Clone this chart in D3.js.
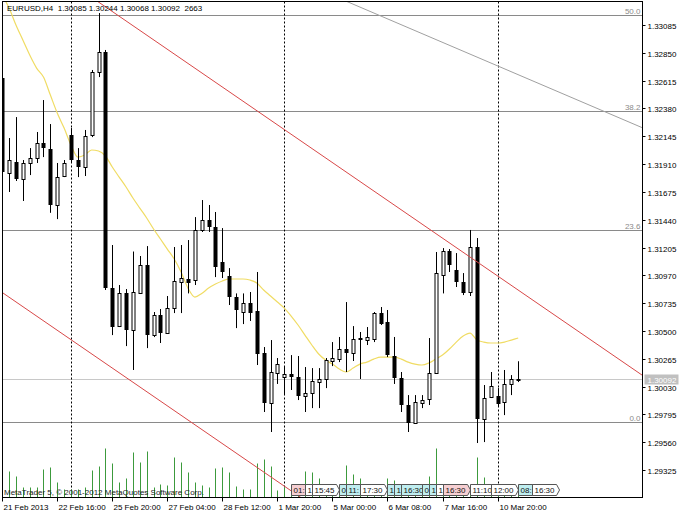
<!DOCTYPE html>
<html><head><meta charset="utf-8">
<script src="https://cdn.jsdelivr.net/npm/d3@7"></script>
<style>
body{margin:0;background:#fff}
svg{display:block}
text{font-family:"Liberation Sans",Arial,sans-serif;font-size:8px}
</style>
</head><body>
<svg id="c" width="688" height="516"></svg>
<script>
// ---------- data ----------
const symbol = "EURUSD,H4";
const headerValues = ["1.30085","1.30244","1.30068","1.30092","2663"];
const open = [1.32637,1.31834,1.31927,1.31784,1.31919,1.31961,1.32088,1.32037,1.31564,1.31809,
1.32155,1.31944,1.31885,1.32155,1.32688,1.32857,1.30862,1.30541,1.30817,1.30508,
1.30817,1.31057,1.30465,1.30634,1.30482,1.30693,1.30913,1.30939,1.30930,1.31353,
1.31437,1.31378,1.31082,1.30964,1.30786,1.30660,1.30736,1.30668,1.30313,1.29891,
1.30144,1.30110,1.30136,1.30110,1.29950,1.29975,1.30068,1.30094,1.30246,1.30262,
1.30347,1.30313,1.30440,1.30423,1.30431,1.30651,1.30575,1.30288,1.30102,1.29874,
1.29722,1.29891,1.29925,1.30144,1.30972,1.31175,1.31015,1.30913,1.30829,1.31209,
1.29755,1.29941,1.29950,1.29899,1.30052,1.30085];
const high = [1.32671,1.32130,1.32307,1.31944,1.32045,1.32181,1.32451,1.32248,1.31919,1.31944,
1.32214,1.32045,1.32198,1.32705,1.33186,1.32874,1.31226,1.30888,1.30854,1.31171,
1.31133,1.31217,1.30660,1.30685,1.30795,1.31209,1.31226,1.31268,1.31462,1.31606,
1.31564,1.31505,1.31369,1.31031,1.30817,1.30817,1.30829,1.30998,1.30364,1.30423,
1.30271,1.30203,1.30296,1.30288,1.30195,1.30186,1.30186,1.30271,1.30406,1.30449,
1.30744,1.30541,1.30491,1.30533,1.30660,1.30702,1.30677,1.30449,1.30153,1.29958,
1.29958,1.29958,1.30440,1.31167,1.31200,1.31192,1.31158,1.30989,1.31353,1.31285,
1.30043,1.30153,1.30017,1.30170,1.30127,1.30244];
const low = [1.31792,1.31674,1.31767,1.31598,1.31817,1.31919,1.31969,1.31498,1.31445,1.31800,
1.31927,1.31800,1.31809,1.32138,1.32645,1.30846,1.30465,1.30533,1.30372,1.30170,
1.30817,1.30355,1.30448,1.30398,1.30482,1.30651,1.30651,1.30817,1.30888,1.31336,
1.31336,1.30955,1.30947,1.30719,1.30524,1.30558,1.30584,1.30212,1.29815,1.29646,
1.30052,1.29958,1.30001,1.29916,1.29815,1.29848,1.29848,1.30017,1.30203,1.30237,
1.30153,1.30246,1.30094,1.30381,1.30406,1.30550,1.30279,1.30052,1.29815,1.29646,
1.29722,1.29848,1.29874,1.30144,1.30817,1.30998,1.30871,1.30803,1.30795,1.29553,
1.29561,1.29933,1.29865,1.29789,1.29958,1.30068];
const close = [1.31843,1.31944,1.31784,1.31919,1.31961,1.32088,1.32045,1.31564,1.31800,1.31919,
1.31944,1.31885,1.32147,1.32688,1.32857,1.30862,1.30533,1.30817,1.30508,1.30829,
1.31057,1.30465,1.30634,1.30482,1.30693,1.30922,1.30947,1.30905,1.31353,1.31437,
1.31378,1.31040,1.30998,1.30786,1.30677,1.30736,1.30651,1.30305,1.29891,1.30153,
1.30220,1.30136,1.30110,1.29950,1.29975,1.30077,1.30094,1.30254,1.30271,1.30347,
1.30313,1.30431,1.30423,1.30449,1.30651,1.30558,1.30296,1.30102,1.29874,1.29722,
1.29899,1.29916,1.30144,1.30989,1.31175,1.31057,1.30913,1.30817,1.31209,1.29755,
1.29933,1.30034,1.29882,1.30052,1.30094,1.30092];
const movingAverage = [1.33338,1.33228,1.33085,1.32958,1.32831,1.32721,1.32645,1.32493,1.32341,1.32214,
1.32071,1.31969,1.31986,1.32029,1.32020,1.31978,1.31885,1.31800,1.31716,1.31623,
1.31538,1.31454,1.31361,1.31277,1.31192,1.31108,1.30998,1.30862,1.30786,1.30817,
1.30862,1.30896,1.30922,1.30939,1.30939,1.30939,1.30930,1.30905,1.30846,1.30795,
1.30744,1.30693,1.30626,1.30550,1.30465,1.30381,1.30305,1.30254,1.30220,1.30178,
1.30153,1.30186,1.30220,1.30237,1.30262,1.30279,1.30279,1.30279,1.30262,1.30237,
1.30220,1.30212,1.30229,1.30262,1.30296,1.30347,1.30406,1.30457,1.30482,1.30423,
1.30406,1.30398,1.30398,1.30406,1.30423,1.30440];
const volume = [2500,6500,5250,2500,2500,2500,7000,7500,3750,2000,
2000,2000,2500,6750,7750,12250,8500,3750,4750,11250,
8750,11500,2500,3250,3000,10000,8750,6250,3750,3000,
2500,7250,7500,6250,2750,2000,2000,8500,9500,7750,
1750,2500,2500,2500,6500,6250,4750,2000,2000,2000,
8000,5750,4750,2000,2000,2000,4750,4250,2000,2000,
2000,2000,5250,12250,2500,2500,2500,2500,2500,10000,
5000,2000,2000,2000,2000,2663];
const priceTicks = ["1.33085","1.32850","1.32615","1.32380","1.32145","1.31910","1.31675","1.31440",
"1.31205","1.30970","1.30735","1.30500","1.30265","1.30030","1.29795","1.29560","1.29325"];
const timeLabelBars = [0,8,16,24,32,40,48,56,64,72];
const timeLabels = ["21 Feb 2013","22 Feb 16:00","25 Feb 20:00","27 Feb 04:00","28 Feb 12:00",
"1 Mar 20:00","5 Mar 00:00","6 Mar 08:00","7 Mar 16:00","10 Mar 20:00"];
const separatorBars = [10,41,72];
const fiboPrices = [1.29729,1.31352,1.32358,1.33170];
const fiboLabels = ["0.0","23.6","38.2","50.0"];
const bidPrice = 1.30092;
// trend lines: [bar1, price1, bar2, price2]
const channelUpper = [14,1.33279,93,1.30127];
const channelLower = [0,1.30825,44,1.29069];
const grayTrend = [50,1.33286,93,1.32218];
const eventBars = [42,44,45,49,50,52,56,57,58,61,62,63,64,68,71,75,77];
const eventTexts = ["01:","1","15:45","0","11:","17:30","1","1","16:30","0","1","1","16:30","11:10","12:00","08:","16:30"];
const eventKinds = ["pink","white","whiteA","cyan","cyan","whiteA","cyan","cyan","cyan","cyan","cyan","white","pinkA","white","whiteA","cyan","whiteA"];
const copyright = "MetaTrader 5, © 2001-2012 MetaQuotes Software Corp.";

// ---------- layout ----------
const svg = d3.select("#c");
const L=2.5, T=1.5, R=642.5, B=497.5;
const x = d3.scaleLinear().domain([0,75]).range([2.2,518.2]);
const y = d3.scaleLinear().domain([1.29325,1.33085]).range([470,25]);
const v = d3.scaleLinear().domain([0,12500]).range([B,B-50]);

svg.append("rect").attr("width",688).attr("height",516).attr("fill","#fff");
svg.append("defs").append("clipPath").attr("id","pc").append("rect")
  .attr("x",L+0.5).attr("y",T+0.5).attr("width",R-L-1).attr("height",B-T-1);
const g = svg.append("g").attr("clip-path","url(#pc)");

// fibo levels
fiboPrices.forEach((p,k)=>{
  const yy = Math.round(y(p))+0.5;
  g.append("line").attr("x1",L).attr("x2",R).attr("y1",yy).attr("y2",yy).attr("stroke","#8a8a8a");
  g.append("text").attr("x",R-2).attr("y",yy-2).attr("text-anchor","end").attr("fill","#8a8a8a").text(fiboLabels[k]);
});
// bid line
const by = Math.round(y(bidPrice))+0.5;
g.append("line").attr("x1",L).attr("x2",R).attr("y1",by).attr("y2",by).attr("stroke","#c8c8c8");

// period separators
separatorBars.forEach(i=>{
  const xx = Math.round(x(i))+0.5;
  g.append("line").attr("x1",xx).attr("x2",xx).attr("y1",T).attr("y2",B)
    .attr("stroke","#000").attr("stroke-dasharray","2,2");
});

// volumes
g.selectAll("line.vol").data(volume).enter().append("line").attr("class","vol")
  .attr("x1",(d,i)=>Math.round(x(i))+0.5).attr("x2",(d,i)=>Math.round(x(i))+0.5)
  .attr("y1",v(0)).attr("y2",d=>v(d)).attr("stroke","#3c9a3c");

// moving average
g.append("path").datum(movingAverage)
  .attr("d",d3.line().x((d,i)=>x(i)).y(d=>y(d)).curve(d3.curveMonotoneX))
  .attr("fill","none").attr("stroke","#f0dc64").attr("stroke-width",1.2);

// candles
const idx = d3.range(open.length);
g.selectAll("line.wick").data(idx).enter().append("line")
  .attr("x1",i=>Math.round(x(i))+0.5).attr("x2",i=>Math.round(x(i))+0.5)
  .attr("y1",i=>y(high[i])).attr("y2",i=>y(low[i])).attr("stroke","#000");
g.selectAll("rect.body").data(idx).enter().append("rect")
  .each(function(i){
    const c = Math.round(x(i));
    const yo = y(open[i]), yc = y(close[i]);
    const top = Math.round(Math.min(yo,yc)), bot = Math.round(Math.max(yo,yc));
    const s = d3.select(this);
    if (close[i] < open[i]) {
      s.attr("x",c-1.5).attr("y",top).attr("width",4).attr("height",Math.max(1,bot-top)).attr("fill","#000");
    } else {
      s.attr("x",c-1).attr("y",top+0.5).attr("width",3).attr("height",Math.max(1,bot-top)).attr("fill","#fff").attr("stroke","#000");
    }
  });

// trend lines
function trend(a,color){
  const slope = (y(a[3])-y(a[1]))/(x(a[2])-x(a[0]));
  const x0 = x(a[0]), y0 = y(a[1]);
  g.append("line").attr("x1",0).attr("y1",y0+slope*(0-x0)).attr("x2",R).attr("y2",y0+slope*(R-x0))
    .attr("stroke",color).attr("stroke-width",1);
}
trend(channelUpper,"#d84848");
trend(channelLower,"#d84848");
trend(grayTrend,"#a0a0a0");

// frame
svg.append("rect").attr("x",L).attr("y",T).attr("width",R-L).attr("height",B-T).attr("fill","none").attr("stroke","#000");

// price axis
priceTicks.forEach(t=>{
  const yy = Math.round(y(+t))+0.5;
  svg.append("line").attr("x1",R).attr("x2",R+3).attr("y1",yy).attr("y2",yy).attr("stroke","#000");
  svg.append("text").attr("x",R+5).attr("y",yy+3).text(t);
});
// bid label
svg.append("rect").attr("x",R+2).attr("y",by-5).attr("width",34).attr("height",10).attr("fill","#c0c0c0");
svg.append("text").attr("x",R+5).attr("y",by+3).attr("fill","#fff").text(bidPrice.toFixed(5));

// time axis
timeLabelBars.forEach((i,k)=>{
  const xx = Math.round(x(i))+0.5;
  svg.append("line").attr("x1",xx).attr("x2",xx).attr("y1",B).attr("y2",B+4).attr("stroke","#000");
  svg.append("text").attr("x",xx+1).attr("y",509.5).text(timeLabels[k]);
});

// header
svg.append("text").attr("x",7).attr("y",10.5).style("white-space","pre")
  .text(symbol+"  "+headerValues.slice(0,4).join(" ")+"  "+headerValues[4]);

// copyright
svg.append("text").attr("x",4).attr("y",495).attr("fill","#222").text(copyright);

// events
const fills = {pink:"#f6cfd2",cyan:"#bfeef0",white:"#ffffff"};
eventBars.forEach((i,k)=>{
  const kind = eventKinds[k];
  const arrow = kind.endsWith("A");
  const base = arrow ? kind.slice(0,-1) : kind;
  const x0 = Math.round(x(i))+0.5;
  const eg = svg.append("g");
  const p = eg.append("path");
  const t = eg.append("text").attr("x",x0+2).attr("y",493).attr("fill","#111").text(eventTexts[k]);
  const w = t.node().getComputedTextLength()+4;
  const top=484.5, bot=495.5, mid=490;
  const d = arrow ? `M${x0},${top}H${x0+w}L${x0+w+3},${mid}L${x0+w},${bot}H${x0}Z`
                  : `M${x0},${top}H${x0+w}V${bot}H${x0}Z`;
  p.attr("d",d).attr("fill",fills[base]).attr("stroke","#555");
});
</script>
</body></html>
